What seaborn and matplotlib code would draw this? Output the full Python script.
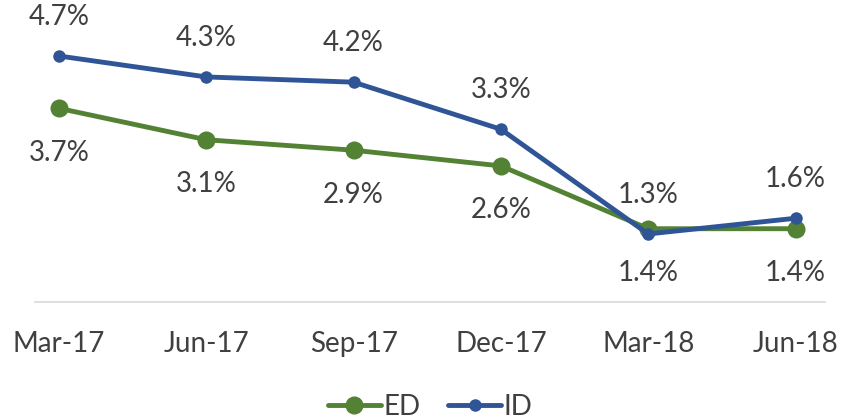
import matplotlib
matplotlib.use("Agg")
import matplotlib.pyplot as plt
import seaborn as sns
import pandas as pd
from matplotlib.lines import Line2D

categories = ["Mar-17", "Jun-17", "Sep-17", "Dec-17", "Mar-18", "Jun-18"]
ed_values = [3.7, 3.1, 2.9, 2.6, 1.4, 1.4]
id_values = [4.7, 4.3, 4.2, 3.3, 1.3, 1.6]

ED_COLOR = "#548235"
ID_COLOR = "#2F5597"
TEXT_COLOR = "#404040"

sns.set_theme(style="white")
plt.rcParams["font.family"] = ["Lato", "DejaVu Sans"]

df = pd.DataFrame({
    "period": categories * 2,
    "pos": list(range(len(categories))) * 2,
    "value": ed_values + id_values,
    "series": ["ED"] * len(categories) + ["ID"] * len(categories),
})

fig = plt.figure(figsize=(8.42, 4.19), dpi=100)
ax = fig.add_axes([35 / 842, 117 / 419, 790 / 842, 302 / 419])

sns.lineplot(data=df[df.series == "ED"], x="pos", y="value", ax=ax, color=ED_COLOR,
             linewidth=3.5, marker="o", markersize=13, markeredgewidth=0, legend=False)
sns.lineplot(data=df[df.series == "ID"], x="pos", y="value", ax=ax, color=ID_COLOR,
             linewidth=3.5, marker="o", markersize=9, markeredgewidth=0, legend=False)

for i, v in enumerate(ed_values):
    ax.annotate(f"{v:.1f}%", (i, v), xytext=(0, -32), textcoords="offset points",
                ha="center", va="center", fontsize=20, color=TEXT_COLOR)
for i, v in enumerate(id_values):
    ax.annotate(f"{v:.1f}%", (i, v), xytext=(0, 28), textcoords="offset points",
                ha="center", va="center", fontsize=20, color=TEXT_COLOR)

ax.set_xlim(-0.163, 5.2)
ax.set_ylim(0, 5.77)
ax.set_xticks(range(len(categories)))
ax.set_xticklabels(categories, fontsize=20, color=TEXT_COLOR)
ax.set_yticks([])
ax.set_xlabel("")
ax.set_ylabel("")
ax.tick_params(axis="x", length=0, pad=21)
for s in ["top", "left", "right"]:
    ax.spines[s].set_visible(False)
ax.spines["bottom"].set_color("#D9D9D9")
ax.spines["bottom"].set_linewidth(1.2)

handles = [
    Line2D([0], [0], color=ED_COLOR, lw=3.5, marker="o", markersize=13, markeredgewidth=0),
    Line2D([0], [0], color=ID_COLOR, lw=3.5, marker="o", markersize=9, markeredgewidth=0),
]
fig.legend(handles, ["ED", "ID"], loc="center", bbox_to_anchor=(0.511, 0.029), ncol=2,
           frameon=False, fontsize=20, handlelength=1.9, handletextpad=0.1,
           columnspacing=1.0, labelcolor=TEXT_COLOR)

fig.savefig("out.png", dpi=100)
